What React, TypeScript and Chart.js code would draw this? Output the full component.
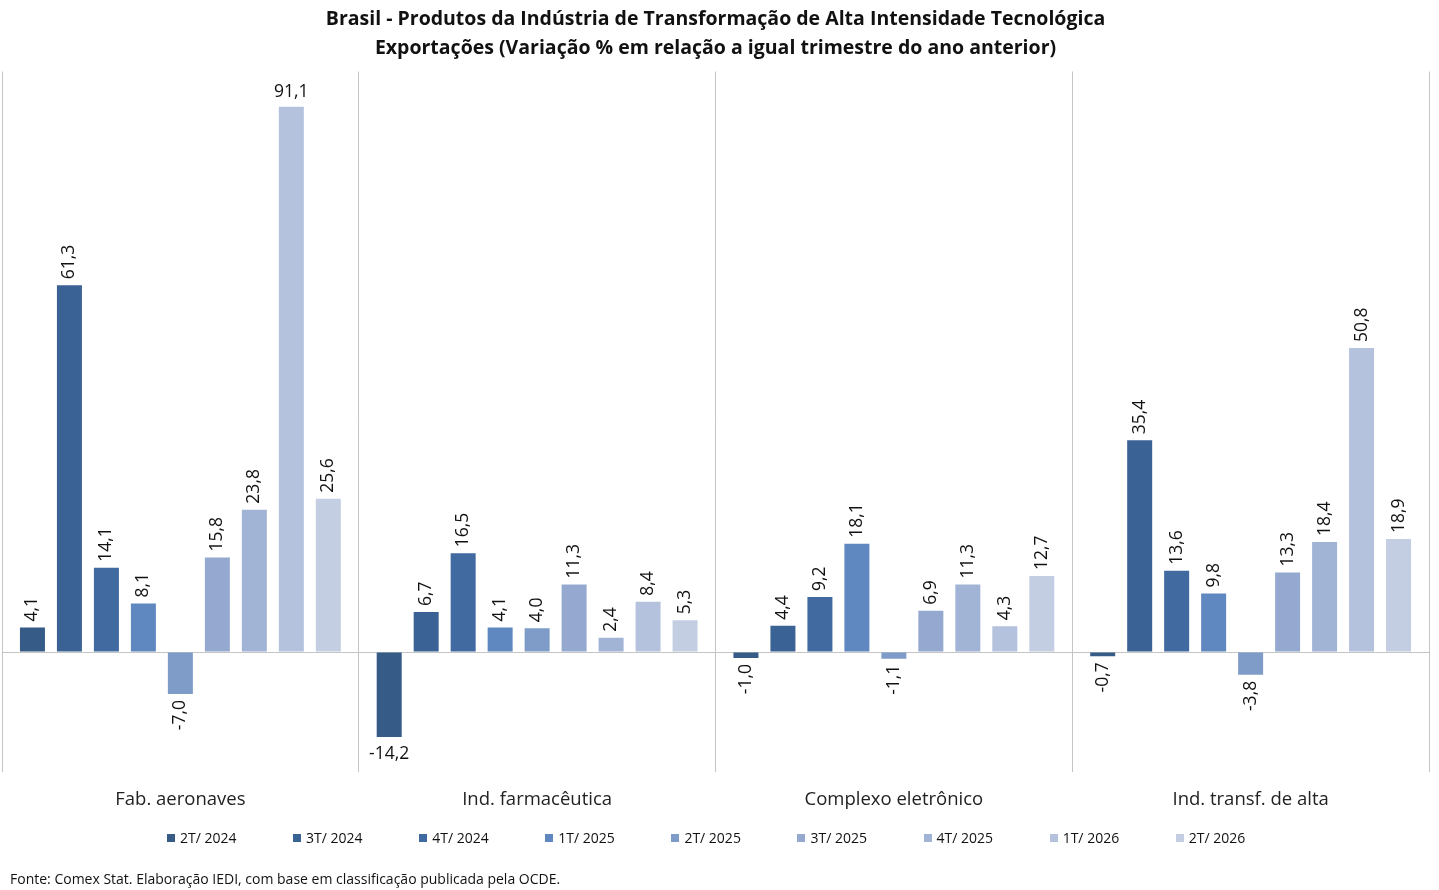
import { useEffect, useRef } from 'react';
import { Chart, registerables } from 'chart.js';

Chart.register(...registerables);

// categories (sectors)
const categories = ['Fab. aeronaves', 'Ind. farmacêutica', 'Complexo eletrônico', 'Ind. transf. de alta'];

// quarters (one dataset each)
const quarterLabels = ['2T/ 2024', '3T/ 2024', '4T/ 2024', '1T/ 2025', '2T/ 2025', '3T/ 2025', '4T/ 2025', '1T/ 2026', '2T/ 2026'];

const q2T2024 = [4.1, -14.2, -1.0, -0.7];
const q3T2024 = [61.3, 6.7, 4.4, 35.4];
const q4T2024 = [14.1, 16.5, 9.2, 13.6];
const q1T2025 = [8.1, 4.1, 18.1, 9.8];
const q2T2025 = [-7.0, 4.0, -1.1, -3.8];
const q3T2025 = [15.8, 11.3, 6.9, 13.3];
const q4T2025 = [23.8, 2.4, 11.3, 18.4];
const q1T2026 = [91.1, 8.4, 4.3, 50.8];
const q2T2026 = [25.6, 5.3, 12.7, 18.9];

const seriesValues = [q2T2024, q3T2024, q4T2024, q1T2025, q2T2025, q3T2025, q4T2025, q1T2026, q2T2026];

const seriesColors = ['#365B87', '#3B6294', '#416AA0', '#5F88C0', '#7F9CC8', '#95A9D0', '#A2B4D6', '#B4C2DE', '#C4CEE2'];

const FONT = '"Open Sans", "DejaVu Sans", sans-serif';

const fmt = (v: number) => v.toFixed(1).replace('.', ',');

// draws the value labels, rotated unless they would leave the plot area
const valueLabels = {
  id: 'valueLabels',
  afterDatasetsDraw(chart: any) {
    const { ctx, chartArea } = chart;
    ctx.save();
    ctx.font = `17.5px ${FONT}`;
    ctx.fillStyle = '#111';
    chart.data.datasets.forEach((ds: any, di: number) => {
      const meta = chart.getDatasetMeta(di);
      meta.data.forEach((bar: any, i: number) => {
        const v = ds.data[i];
        const text = fmt(v);
        const w = ctx.measureText(text).width;
        if (v >= 0) {
          if (bar.y - 6 - w < chartArea.top) {
            ctx.textAlign = 'center';
            ctx.textBaseline = 'bottom';
            ctx.fillText(text, bar.x, bar.y - 6);
          } else {
            ctx.save();
            ctx.translate(bar.x, bar.y - 6);
            ctx.rotate(-Math.PI / 2);
            ctx.textAlign = 'left';
            ctx.textBaseline = 'middle';
            ctx.fillText(text, 0, 0);
            ctx.restore();
          }
        } else {
          if (bar.y + 6 + w > chartArea.bottom) {
            ctx.textAlign = 'center';
            ctx.textBaseline = 'top';
            ctx.fillText(text, bar.x, bar.y + 8);
          } else {
            ctx.save();
            ctx.translate(bar.x, bar.y + 6);
            ctx.rotate(-Math.PI / 2);
            ctx.textAlign = 'right';
            ctx.textBaseline = 'middle';
            ctx.fillText(text, 0, 0);
            ctx.restore();
          }
        }
      });
    });
    ctx.restore();
  },
};

export default function App() {
  const canvasRef = useRef<HTMLCanvasElement>(null);

  useEffect(() => {
    if (!canvasRef.current) return;

    const chart = new Chart(canvasRef.current, {
      type: 'bar',
      data: {
        labels: categories,
        datasets: seriesValues.map((values, i) => ({
          label: quarterLabels[i],
          data: values,
          backgroundColor: seriesColors[i],
          borderWidth: 0,
          categoryPercentage: 0.933,
          barPercentage: 0.676,
        })),
      },
      options: {
        animation: false,
        responsive: true,
        maintainAspectRatio: false,
        layout: { padding: { left: 2, right: 10, top: 0, bottom: 62 } },
        plugins: {
          legend: { display: false },
          tooltip: { enabled: false },
          title: {
            display: true,
            text: [
              'Brasil - Produtos da Indústria de Transformação de Alta Intensidade Tecnológica',
              'Exportações (Variação % em relação a igual trimestre do ano anterior)',
            ],
            color: '#111',
            font: { family: FONT, size: 19.5, weight: 'bold', lineHeight: 1.5 },
            padding: { top: 5, bottom: 8 },
          },
        },
        scales: {
          x: {
            grid: { color: '#C4C4C4', drawTicks: false, offset: true },
            border: { display: false },
            ticks: { color: '#222', font: { family: FONT, size: 18.5 }, padding: 17 },
          },
          y: {
            min: -20,
            max: 97,
            ticks: { display: false, stepSize: 10 },
            border: { display: false },
            grid: {
              drawTicks: false,
              color: (c: any) => (c.tick && c.tick.value === 0 ? '#C4C4C4' : 'rgba(0,0,0,0)'),
            },
          },
        },
      },
      plugins: [valueLabels],
    });

    return () => chart.destroy();
  }, []);

  return (
    <div style={{ position: 'fixed', left: 0, top: 0, width: 1439, height: 890, background: '#fff', fontFamily: FONT }}>
      <canvas ref={canvasRef} />
      <div style={{ position: 'absolute', left: 167, top: 828, display: 'flex' }}>
        {quarterLabels.map((q, i) => (
          <div key={q} style={{ width: 126.1, display: 'flex', alignItems: 'center', fontSize: 14, color: '#111', lineHeight: '20px' }}>
            <span style={{ width: 8, height: 8, background: seriesColors[i], marginRight: 5, display: 'inline-block' }} />
            {q}
          </div>
        ))}
      </div>
      <div style={{ position: 'absolute', left: 10, top: 869, fontSize: 14, color: '#111', lineHeight: '19px' }}>
        Fonte: Comex Stat. Elaboração IEDI, com base em classificação publicada pela OCDE.
      </div>
    </div>
  );
}
